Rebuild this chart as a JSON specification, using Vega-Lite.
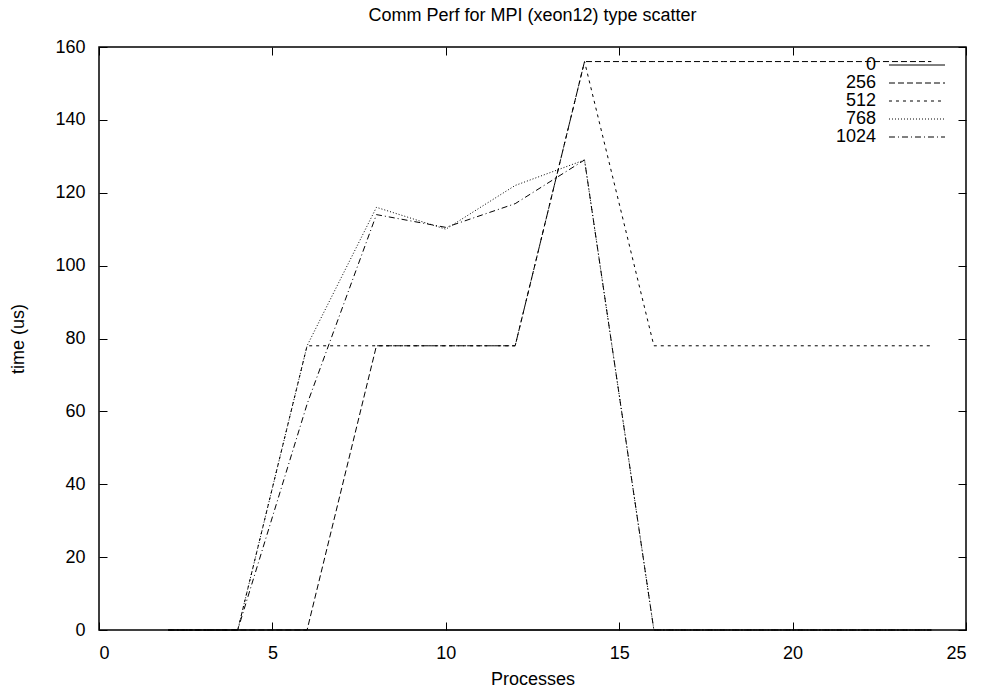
{
  "$schema": "https://vega.github.io/schema/vega-lite/v6.json",
  "width": 867,
  "height": 583,
  "autosize": {"type": "none"},
  "padding": {"left": 99, "top": 47, "right": 16, "bottom": 61},
  "background": "white",
  "config": {
    "font": "Liberation Sans",
    "view": {"stroke": "black", "strokeWidth": 1.5},
    "axis": {
      "domain": false,
      "grid": false,
      "tickColor": "black",
      "tickWidth": 1,
      "labelColor": "black",
      "labelFontSize": 18,
      "labelFont": "Liberation Sans",
      "titleFont": "Liberation Sans",
      "titleFontSize": 18,
      "titleFontWeight": "normal",
      "titleColor": "black"
    }
  },
  "title": {
    "text": "Comm Perf for MPI (xeon12) type scatter",
    "fontSize": 18,
    "fontWeight": "normal",
    "font": "Liberation Sans",
    "color": "black",
    "anchor": "middle",
    "offset": 13
  },
  "data": {
    "values": [
      {"series": "0", "processes": 2, "time": 0},
      {"series": "0", "processes": 4, "time": 0},
      {"series": "0", "processes": 6, "time": 0},
      {"series": "0", "processes": 8, "time": 0},
      {"series": "0", "processes": 10, "time": 0},
      {"series": "0", "processes": 12, "time": 0},
      {"series": "0", "processes": 14, "time": 0},
      {"series": "0", "processes": 16, "time": 0},
      {"series": "0", "processes": 18, "time": 0},
      {"series": "0", "processes": 20, "time": 0},
      {"series": "0", "processes": 22, "time": 0},
      {"series": "0", "processes": 24, "time": 0},
      {"series": "256", "processes": 2, "time": 0},
      {"series": "256", "processes": 4, "time": 0},
      {"series": "256", "processes": 6, "time": 0},
      {"series": "256", "processes": 8, "time": 78},
      {"series": "256", "processes": 10, "time": 78},
      {"series": "256", "processes": 12, "time": 78},
      {"series": "256", "processes": 14, "time": 156},
      {"series": "256", "processes": 16, "time": 156},
      {"series": "256", "processes": 18, "time": 156},
      {"series": "256", "processes": 20, "time": 156},
      {"series": "256", "processes": 22, "time": 156},
      {"series": "256", "processes": 24, "time": 156},
      {"series": "512", "processes": 2, "time": 0},
      {"series": "512", "processes": 4, "time": 0},
      {"series": "512", "processes": 6, "time": 78},
      {"series": "512", "processes": 8, "time": 78},
      {"series": "512", "processes": 10, "time": 78},
      {"series": "512", "processes": 12, "time": 78},
      {"series": "512", "processes": 14, "time": 156},
      {"series": "512", "processes": 16, "time": 78},
      {"series": "512", "processes": 18, "time": 78},
      {"series": "512", "processes": 20, "time": 78},
      {"series": "512", "processes": 22, "time": 78},
      {"series": "512", "processes": 24, "time": 78},
      {"series": "768", "processes": 2, "time": 0},
      {"series": "768", "processes": 4, "time": 0},
      {"series": "768", "processes": 6, "time": 78},
      {"series": "768", "processes": 8, "time": 116},
      {"series": "768", "processes": 10, "time": 110},
      {"series": "768", "processes": 12, "time": 122},
      {"series": "768", "processes": 14, "time": 129},
      {"series": "768", "processes": 16, "time": 0},
      {"series": "768", "processes": 18, "time": 0},
      {"series": "768", "processes": 20, "time": 0},
      {"series": "768", "processes": 22, "time": 0},
      {"series": "768", "processes": 24, "time": 0},
      {"series": "1024", "processes": 2, "time": 0},
      {"series": "1024", "processes": 4, "time": 0},
      {"series": "1024", "processes": 6, "time": 62},
      {"series": "1024", "processes": 8, "time": 114},
      {"series": "1024", "processes": 10, "time": 110.5},
      {"series": "1024", "processes": 12, "time": 117},
      {"series": "1024", "processes": 14, "time": 129},
      {"series": "1024", "processes": 16, "time": 0},
      {"series": "1024", "processes": 18, "time": 0},
      {"series": "1024", "processes": 20, "time": 0},
      {"series": "1024", "processes": 22, "time": 0},
      {"series": "1024", "processes": 24, "time": 0}
    ]
  },
  "layer": [
    {
      "mark": {"type": "line", "color": "black", "strokeWidth": 1},
      "encoding": {
        "x": {
          "field": "processes",
          "type": "quantitative",
          "scale": {"domain": [0, 25], "nice": false, "zero": false},
          "axis": {
            "title": "Processes",
            "values": [0, 5, 10, 15, 20, 25],
            "tickSize": -8,
            "labelPadding": 22,
            "titlePadding": 8
          }
        },
        "y": {
          "field": "time",
          "type": "quantitative",
          "scale": {"domain": [0, 160], "nice": false},
          "axis": {
            "title": "time (us)",
            "values": [0, 20, 40, 60, 80, 100, 120, 140, 160],
            "tickSize": -8,
            "labelPadding": 22,
            "titlePadding": 27
          }
        },
        "strokeDash": {
          "field": "series",
          "type": "nominal",
          "sort": ["0", "256", "512", "768", "1024"],
          "scale": {
            "domain": ["0", "256", "512", "768", "1024"],
            "range": [[1, 0], [6, 3], [3, 4], [1, 2], [6, 3, 1, 3]]
          },
          "legend": {
            "orient": "none",
            "legendX": 789,
            "legendY": 9,
            "title": null,
            "padding": 0,
            "rowPadding": 0,
            "symbolType": "M -4.667 0 L 4.667 0",
            "symbolSize": 144,
            "symbolOffset": 20,
            "symbolStrokeWidth": 1,
            "symbolStrokeColor": "black",
            "symbolFillColor": "transparent",
            "labelAlign": "right",
            "labelOffset": -50,
            "labelFontSize": 18,
            "labelColor": "black",
            "labelFont": "Liberation Sans"
          }
        }
      }
    },
    {
      "mark": {"type": "line", "opacity": 0},
      "encoding": {
        "x": {
          "field": "processes",
          "type": "quantitative",
          "axis": {
            "orient": "top",
            "values": [0, 5, 10, 15, 20, 25],
            "labels": false,
            "title": null,
            "tickSize": -8
          }
        },
        "y": {
          "field": "time",
          "type": "quantitative",
          "axis": {
            "orient": "right",
            "values": [0, 20, 40, 60, 80, 100, 120, 140, 160],
            "labels": false,
            "title": null,
            "tickSize": -8
          }
        }
      }
    }
  ],
  "resolve": {"axis": {"x": "independent", "y": "independent"}}
}
